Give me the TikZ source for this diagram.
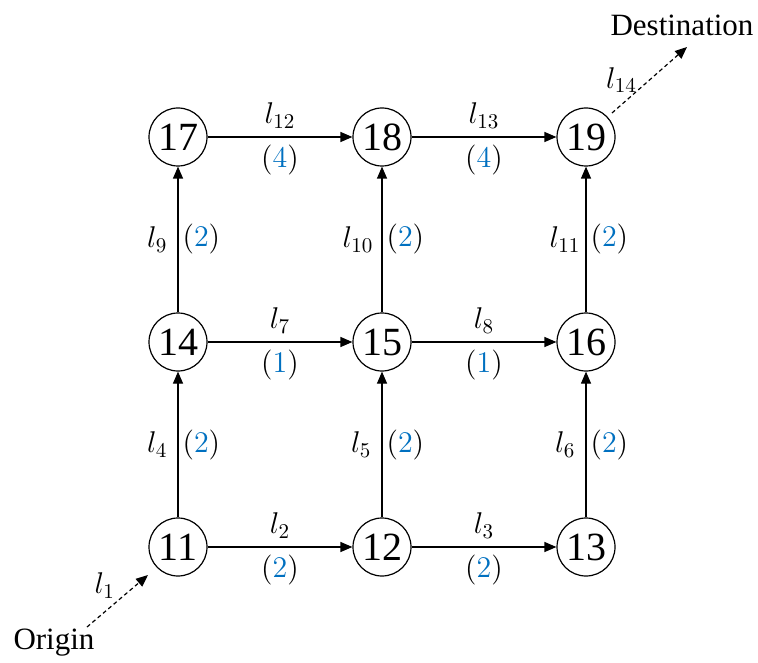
\RequirePackage{fix-cm}
\documentclass[tikz,border=0pt]{standalone}
\usepackage{amsmath}
\usepackage{fontspec}
\setmainfont{Liberation Serif}
\newfontfamily\chiffres{Liberation Serif}
\usepackage{tikz}
\usetikzlibrary{arrows.meta, positioning}
\usepackage{xcolor}
\definecolor{poidsblue}{RGB}{0,112,192}

\newcommand{\poids}[1]{$(\textcolor{poidsblue}{#1})$}

\begin{document}
\begin{tikzpicture}[>={Triangle[length=6pt,width=5pt]}, x=0.5pt, y=-0.5pt,
    carrefour/.style={draw, circle, line width=0.6pt, minimum size=29pt, inner sep=0pt,
        font=\chiffres\fontsize{20}{24}\selectfont},
    fleche/.style={->, line width=0.6pt},
    pointille/.style={->, line width=0.6pt, dash pattern=on 2pt off 1.5pt},
    lien/.style={inner sep=1pt, font=\fontsize{15}{18}\selectfont},
    texte/.style={inner sep=0pt, font=\chiffres\fontsize{15.5}{18}\selectfont}]
        \useasboundingbox (0,0) rectangle (758,662);

        % --- Carrefours ---
        \node[carrefour] (n17) at (178,137) {17};
        \node[carrefour] (n18) at (382,137) {18};
        \node[carrefour] (n19) at (586,137) {19};
        \node[carrefour] (n14) at (178,342) {14};
        \node[carrefour] (n15) at (382,342) {15};
        \node[carrefour] (n16) at (586,342) {16};
        \node[carrefour] (n11) at (178,547) {11};
        \node[carrefour] (n12) at (382,547) {12};
        \node[carrefour] (n13) at (586,547) {13};

        % --- Liens horizontaux ---
        \draw[fleche] (n11) -- (n12)
            node[midway, above=3pt, lien] {$l_{2}$}
            node[midway, below=2.5pt, lien] {\poids{2}};
        \draw[fleche] (n12) -- (n13)
            node[midway, above=3pt, lien] {$l_{3}$}
            node[midway, below=2.5pt, lien] {\poids{2}};
        \draw[fleche] (n14) -- (n15)
            node[midway, above=3pt, lien] {$l_{7}$}
            node[midway, below=2.5pt, lien] {\poids{1}};
        \draw[fleche] (n15) -- (n16)
            node[midway, above=3pt, lien] {$l_{8}$}
            node[midway, below=2.5pt, lien] {\poids{1}};
        \draw[fleche] (n17) -- (n18)
            node[midway, above=3pt, lien] {$l_{12}$}
            node[midway, below=2.5pt, lien] {\poids{4}};
        \draw[fleche] (n18) -- (n19)
            node[midway, above=3pt, lien] {$l_{13}$}
            node[midway, below=2.5pt, lien] {\poids{4}};

        % --- Liens verticaux ---
        \draw[fleche] (n11) -- (n14)
            node[midway, left=4pt, lien] {$l_{4}$}
            node[midway, right=1pt, lien] {\poids{2}};
        \draw[fleche] (n12) -- (n15)
            node[midway, left=4pt, lien] {$l_{5}$}
            node[midway, right=1pt, lien] {\poids{2}};
        \draw[fleche] (n13) -- (n16)
            node[midway, left=4pt, lien] {$l_{6}$}
            node[midway, right=1pt, lien] {\poids{2}};
        \draw[fleche] (n14) -- (n17)
            node[midway, left=4pt, lien] {$l_{9}$}
            node[midway, right=1pt, lien] {\poids{2}};
        \draw[fleche] (n15) -- (n18)
            node[midway, left=3pt, lien] {$l_{10}$}
            node[midway, right=1pt, lien] {\poids{2}};
        \draw[fleche] (n16) -- (n19)
            node[midway, left=1.5pt, lien] {$l_{11}$}
            node[midway, right=1pt, lien] {\poids{2}};

        % --- Origine et destination ---
        \node[texte] (origine) at (54,643) {Origin};
        \node[texte] (dest) at (682,25) {Destination};

        \coordinate (l1a) at (87,627);
        \coordinate (l1b) at (148,575);
        \draw[pointille] (l1a) -- (l1b)
            node[midway, above left=0pt, lien] {$l_{1}$};

        \coordinate (l14a) at (612,113);
        \coordinate (l14b) at (687,47);
        \draw[pointille] (l14a) -- (l14b)
            node[midway, left=5pt, lien] {$l_{14}$};
    \end{tikzpicture}
\end{document}
